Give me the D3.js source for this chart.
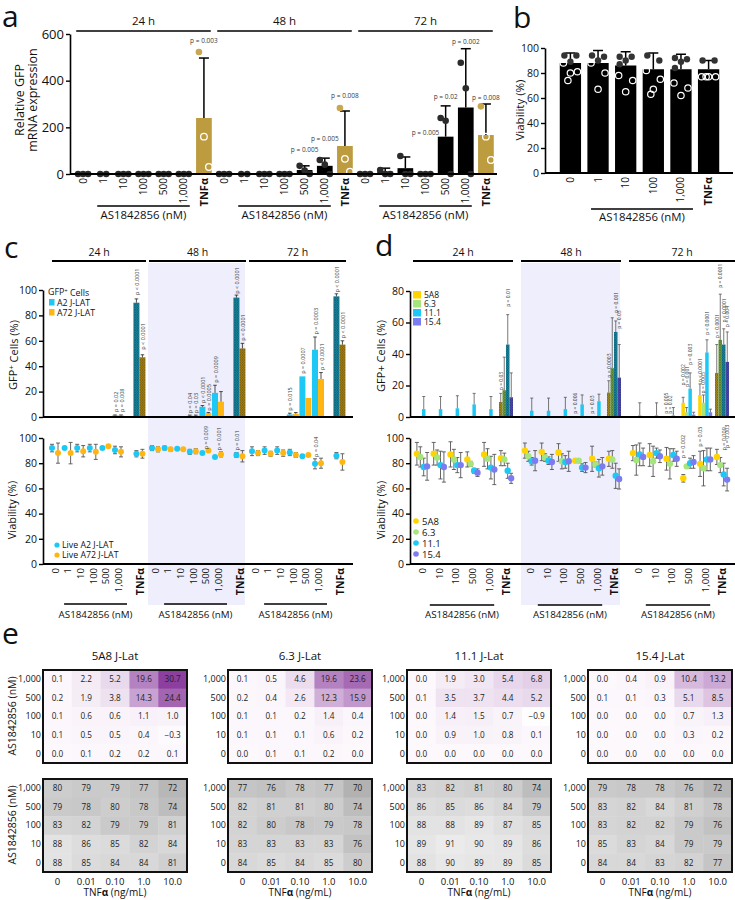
<!DOCTYPE html>
<html><head><meta charset="utf-8">
<script src="https://cdn.jsdelivr.net/npm/d3@7/dist/d3.min.js"></script>
<style>html,body{margin:0;padding:0;background:#fff;}</style>
</head><body>
<script>
// ======================= DATA =======================
const groups = ["24 h", "48 h", "72 h"];

// ---- Panel a: relative GFP mRNA expression ----
const aDoses = ["0", "1", "10", "100", "500", "1,000", "TNFα"];
const aYTicks = [0, 200, 400, 600];
const aMean = {
  "24 h": [0, 0, 0, 0, 0, 0, 240],
  "48 h": [0, 0, 0, 0, 17, 35, 120],
  "72 h": [0, 10, 25, 0, 160, 285, 167]
};
const aUpper = {
  "24 h": [0, 0, 0, 0, 0, 0, 497],
  "48 h": [0, 0, 0, 0, 35, 68, 270],
  "72 h": [0, 25, 73, 0, 292, 537, 300]
};
const aReps = {
  "24 h": [[0,0,0],[0,0],[0,0,0],[0,0,0],[0,0,0],[0,0,0],[523,160,30]],
  "48 h": [[0,0,0],[0,0],[0,0,0],[0,0,0],[35,15,0],[60,40,0],[283,65,10]],
  "72 h": [[0,0,0],[17,0,0],[77,0,0],[0,0,0],[240,228,0],[477,367,0],[290,160,60]]
};
const aPvals = [
  {g:"24 h", d:"TNFα", v:560, t:"p = 0.003"},
  {g:"48 h", d:"500", v:94, t:"p = 0.005"},
  {g:"48 h", d:"1,000", v:141, t:"p = 0.005"},
  {g:"48 h", d:"TNFα", v:326, t:"p = 0.008"},
  {g:"72 h", d:"100", v:167, t:"p = 0.005"},
  {g:"72 h", d:"500", v:321, t:"p = 0.02"},
  {g:"72 h", d:"1,000", v:557, t:"p = 0.002"},
  {g:"72 h", d:"TNFα", v:316, t:"p = 0.008"}
];

// ---- Panel b: viability ----
const bDoses = ["0", "1", "10", "100", "1,000", "TNFα"];
const bYTicks = [0, 20, 40, 60, 80, 100];
const bMean = [88, 88, 86, 83, 83, 83];
const bUpper = [96, 98, 97, 96, 95, 90];
const bReps = [
  [94, 94, 89, 88, 81, 80, 74],
  [94, 93, 90, 88, 80, 67],
  [93, 93, 90, 87, 78, 74, 65],
  [94, 90, 82, 75, 67, 63],
  [92, 91, 89, 84, 72, 68, 62],
  [90, 90, 77, 77, 77, 77]
];

// ---- Panel c: A2 / A72 J-LAT ----
const cDoses = ["0", "1", "10", "100", "500", "1,000", "TNFα"];
const cYTicks = [0, 20, 40, 60, 80, 100];
const cSeries = ["A2 J-LAT", "A72 J-LAT"];
const cLiveSeries = ["Live A2 J-LAT", "Live A72 J-LAT"];
const cGfpA2 = {"24 h":[0.6,0.6,0.6,0.6,0.6,1.2,90], "48 h":[0.6,0.6,0.6,1,8,19,94], "72 h":[0.6,0.6,0.6,2,32,53,95]};
const cGfpA2Up = {"24 h":[0,0,0,0,0,1.6,93], "48 h":[0,0,0,1.5,9,25,96], "72 h":[0,0,0,3,32,63,97]};
const cGfpA72 = {"24 h":[0.6,0.6,0.6,0.6,0.6,1.2,47], "48 h":[0.6,0.6,0.6,1,3,12,54], "72 h":[0.6,0.6,0.6,2.5,15,30,57]};
const cGfpA72Up = {"24 h":[0,0,0,0,0,1.6,49], "48 h":[0,0,0,1.5,3.5,20,58], "72 h":[0,0,0,3.5,15,35,60]};
const cViaA2 = {"24 h":[92,92,92,92,92,90.5,87.5], "48 h":[92,92,91.5,89,88,85,86.5], "72 h":[89.5,90,90,88.5,85.5,79.5,86]};
const cViaA2Sd = {"24 h":[3,0,3,3,0,3,2.5], "48 h":[2,1.5,1,2,0,1,2], "72 h":[3.5,3,3,2.5,0,4,2.5]};
const cViaA72 = {"24 h":[88,88,89.5,89,93.5,89,87.5], "48 h":[91,91,91,89.5,90,87,85.5], "72 h":[88,87.5,88,86.5,86.5,80,81]};
const cViaA72Sd = {"24 h":[8,8.5,4.5,6,0,4,3.5], "48 h":[2,1.5,1,2,0,2,4.5], "72 h":[2,2,2.5,2,0,4,6.5]};
const cTopP = [
  {g:"24 h", d:"1,000", s:0, v:4, t:"p = 0.02"},
  {g:"24 h", d:"1,000", s:1, v:4, t:"p = 0.008"},
  {g:"24 h", d:"TNFα", s:0, v:96, t:"p < 0.0001"},
  {g:"24 h", d:"TNFα", s:1, v:53, t:"p < 0.0001"},
  {g:"48 h", d:"100", s:0, v:3, t:"p = 0.04"},
  {g:"48 h", d:"100", s:1, v:3, t:"p = 0.03"},
  {g:"48 h", d:"500", s:0, v:11, t:"p < 0.0001"},
  {g:"48 h", d:"500", s:1, v:5, t:"p = 0.0005"},
  {g:"48 h", d:"1,000", s:0, v:27, t:"p = 0.0009"},
  {g:"48 h", d:"TNFα", s:0, v:97, t:"p < 0.0001"},
  {g:"48 h", d:"TNFα", s:1, v:60, t:"p < 0.0001"},
  {g:"72 h", d:"100", s:0, v:5, t:"p = 0.015"},
  {g:"72 h", d:"500", s:0, v:34, t:"p = 0.0007"},
  {g:"72 h", d:"1,000", s:0, v:65, t:"p = 0.0003"},
  {g:"72 h", d:"1,000", s:1, v:37, t:"p < 0.0001"},
  {g:"72 h", d:"TNFα", s:0, v:98, t:"p < 0.0001"},
  {g:"72 h", d:"TNFα", s:1, v:62, t:"p < 0.0001"}
];
const cBotP = [
  {g:"48 h", d:"500", s:0.5, v:91, t:"p = 0.009"},
  {g:"48 h", d:"1,000", s:0.5, v:90, t:"p = 0.001"},
  {g:"48 h", d:"TNFα", s:0, v:90, t:"p = 0.01"},
  {g:"72 h", d:"1,000", s:0, v:85, t:"p = 0.04"}
];

// ---- Panel d: four J-Lat clones ----
const dDoses = ["0", "10", "100", "500", "1,000", "TNFα"];
const dSeries = ["5A8", "6.3", "11.1", "15.4"];
const dYTicksTop = [0, 20, 40, 60, 80];
const dYTicksBot = [0, 20, 40, 60, 80, 100];
const dGfpMean = {
  "24 h": [[0.3,0.3,5,0.3],[0.3,0.3,5,0.3],[0.3,0.3,5.5,0.3],[0.3,0.3,8,0.3],[0.3,0.3,5,0.3],[9.5,17,46,12.5]],
  "48 h": [[0.3,0.3,4,0.3],[0.3,0.3,4,0.3],[0.3,0.3,5,0.3],[0.5,0.5,8,0.5],[0.5,0.5,10,0.5],[15.5,31,54,25]],
  "72 h": [[0.3,0.3,1,0.3],[0.3,0.3,1,0.3],[0.5,0.5,1,0.5],[9,3,18,1.5],[14,9,41,3],[28,49,46,35]]
};
const dGfpUpper = {
  "24 h": [[0,0,13,0],[0,0,13,0],[0,0,13.5,0],[0,0,15,0],[0,0,13,0],[15,38,65,28]],
  "48 h": [[0,0,12,0],[0,0,12,0],[0,0,12.5,0],[1,1,14,1],[1,1,14.5,1],[23,63,61,46]],
  "72 h": [[0,0,9,0],[0,0,9,0],[1,1,6,1],[12.5,6,28,3],[21,14,49,5],[46,78,56,54]]
};
const dViaMean = {
  "24 h": [[87.5,85,77,77.5],[87.5,84.5,78.5,77],[87,83,78.5,78.5],[83,79.5,74,72.5],[87,83.5,76.5,75],[84,83,74,68]],
  "48 h": [[90,85.5,81.5,82],[89,84.5,82,81],[88.5,81.5,81,81.5],[82,82,76.5,76.5],[83.5,79,76,77.5],[83.5,83,70,67.5]],
  "72 h": [[88,82.5,87,85],[86.5,81.5,88,85.5],[83.5,79.5,86.5,83.5],[68,77.5,80,81],[79.5,76,83,83],[85,78.5,71,67]]
};
const dViaSd = {
  "24 h": [[9,8,7,11],[9,6,11,12],[10,8,6,10],[6,2,2,3],[9.5,8,9,12],[6,5,6,4]],
  "48 h": [[6,4,3,8],[7,3,3,6],[7,6,5,8],[0.5,0.5,3,4],[10,2,7,7],[6,7,10,8]],
  "72 h": [[6,12,9,7],[9,12,4,5],[9,12,5,6],[3,0.5,4,5],[10,14,9,9],[6,6,9,9]]
};
const dTopP = [
  {g:"24 h", d:"TNFα", s:0, v:17, t:"p = 0.03"},
  {g:"24 h", d:"TNFα", s:2, v:70, t:"p = 0.01"},
  {g:"48 h", d:"500", s:0, v:2, t:"p = 0.006"},
  {g:"48 h", d:"1,000", s:0, v:2, t:"p = 0.03"},
  {g:"48 h", d:"TNFα", s:0, v:25, t:"p = 0.0003"},
  {g:"48 h", d:"TNFα", s:2, v:66, t:"p = 0.001"},
  {g:"48 h", d:"TNFα", s:3, v:56, t:"p = 0.03"},
  {g:"72 h", d:"100", s:0, v:2, t:"p = 0.005"},
  {g:"72 h", d:"100", s:1, v:2, t:"p = 0.02"},
  {g:"72 h", d:"500", s:0, v:20, t:"p = 0.002"},
  {g:"72 h", d:"500", s:1, v:19, t:"p = 0.001"},
  {g:"72 h", d:"500", s:2, v:33, t:"p = 0.003"},
  {g:"72 h", d:"1,000", s:0, v:22, t:"p < 0.0001"},
  {g:"72 h", d:"1,000", s:1, v:15, t:"p = 0.005"},
  {g:"72 h", d:"1,000", s:2, v:52, t:"p < 0.0001"},
  {g:"72 h", d:"TNFα", s:0, v:50, t:"p < 0.0001"},
  {g:"72 h", d:"TNFα", s:1, v:82, t:"p = 0.0001"},
  {g:"72 h", d:"TNFα", s:2, v:60, t:"p < 0.0001"},
  {g:"72 h", d:"TNFα", s:3, v:57, t:"p = 0.004"}
];
const dBotP = [
  {g:"72 h", d:"500", s:0, v:84, t:"p = 0.002"},
  {g:"72 h", d:"1,000", s:0, v:93, t:"p = 0.05"},
  {g:"72 h", d:"TNFα", s:2, v:90, t:"p = 0.009"},
  {g:"72 h", d:"TNFα", s:3, v:92, t:"p = 0.003"}
];

// ---- Panel e: heatmaps ----
const hmNames = ["5A8 J-Lat", "6.3 J-Lat", "11.1 J-Lat", "15.4 J-Lat"];
const hmRows = ["1,000", "500", "100", "10", "0"];
const hmCols = ["0", "0.01", "0.10", "1.0", "10.0"];
const hmGFP = [
  [[0.1,2.2,5.2,19.6,30.7],[0.2,1.9,3.8,14.3,24.4],[0.1,0.6,0.6,1.1,1.0],[0.1,0.5,0.5,0.4,-0.3],[0.0,0.1,0.2,0.2,0.1]],
  [[0.1,0.5,4.6,19.6,23.6],[0.2,0.4,2.6,12.3,15.9],[0.1,0.1,0.2,1.4,0.4],[0.1,0.1,0.1,0.6,0.2],[0.0,0.1,0.1,0.2,0.0]],
  [[0.0,1.9,3.0,5.4,6.8],[0.1,3.5,3.7,4.4,5.2],[0.0,1.4,1.5,0.7,-0.9],[0.0,0.9,1.0,0.8,0.1],[0.0,0.0,0.0,0.0,0.0]],
  [[0.0,0.4,0.9,10.4,13.2],[0.1,0.1,0.3,5.1,8.5],[0.0,0.0,0.0,0.7,1.3],[0.0,0.0,0.0,0.3,0.2],[0.0,0.0,0.0,0.0,0.0]]
];
const hmVia = [
  [[80,79,79,77,72],[79,78,80,78,74],[83,82,79,79,81],[88,86,85,82,84],[88,85,84,84,81]],
  [[77,76,78,77,70],[82,81,81,80,74],[82,80,78,79,78],[83,83,83,83,76],[84,85,84,85,80]],
  [[83,82,81,80,74],[86,85,86,84,79],[88,88,89,87,85],[89,91,90,89,86],[88,90,89,89,85]],
  [[79,78,78,76,72],[83,82,84,81,78],[83,82,82,79,76],[85,83,84,79,79],[84,84,83,82,77]]
];

// ======================= DRAWING =======================
const FONT = "'Open Sans','Noto Sans',sans-serif";
const SHADE = "#eeeefc";
const GOLD = "#bd9b3f";
const cColors = ["#1ec8f5", "#ffb612"];
const dColors = ["#ffd400", "#a5e57c", "#1ec8f5", "#7b7cf0"];

const svg = d3.select("body").append("svg").attr("width", 735).attr("height", 900)
  .attr("font-family", FONT);
const defs = svg.append("defs");
function makeHatch(id, base, line) {
  const p = defs.append("pattern").attr("id", id).attr("patternUnits", "userSpaceOnUse")
    .attr("width", 2.5).attr("height", 2.5);
  p.append("rect").attr("width", 2.5).attr("height", 2.5).attr("fill", base);
  p.append("path").attr("d", "M0,0L2.5,2.5M2.5,0L0,2.5").attr("stroke", line).attr("stroke-width", 0.5);
}
makeHatch("hc0", "#1a8aa3", "#0b4d5e");
makeHatch("hc1", "#ac8619", "#634a06");
makeHatch("hd0", "#b0951c", "#5e4e08");
makeHatch("hd1", "#74a648", "#3b6020");
makeHatch("hd2", "#1a8aa3", "#0b4d5e");
makeHatch("hd3", "#5050b8", "#28286a");

function text(x, y, s, size, o = {}) {
  const t = svg.append("text").attr("x", x).attr("y", y).attr("font-size", size)
    .attr("text-anchor", o.anchor || "middle").attr("fill", o.fill || "#111");
  if (o.weight) t.attr("font-weight", o.weight);
  if (o.rot) t.attr("transform", `rotate(-90,${x},${y})`);
  t.text(s);
  return t;
}
function pLabel(x, y, s, size) {
  svg.append("text").attr("transform", `translate(${x},${y}) rotate(-90)`)
    .attr("font-size", size).attr("fill", "#3a3a3a").attr("dominant-baseline", "central")
    .attr("text-anchor", "start").text(s);
}
function hLine(x1, x2, y, w) {
  svg.append("line").attr("x1", x1).attr("x2", x2).attr("y1", y).attr("y2", y)
    .attr("stroke", "#000").attr("stroke-width", w);
}
function vErr(x, y1, y2, cap, color, w) {
  svg.append("line").attr("x1", x).attr("x2", x).attr("y1", y1).attr("y2", y2).attr("stroke", color).attr("stroke-width", w);
  svg.append("line").attr("x1", x - cap).attr("x2", x + cap).attr("y1", y2).attr("y2", y2).attr("stroke", color).attr("stroke-width", w);
}
function yAxis(scale, x, ticks, size) {
  const g = svg.append("g").attr("transform", `translate(${x},0)`)
    .call(d3.axisLeft(scale).tickValues(ticks).tickSize(4).tickSizeOuter(0).tickPadding(2));
  g.attr("font-family", FONT);
  g.select(".domain").attr("stroke", "#000").attr("stroke-width", 1.6);
  g.selectAll(".tick line").attr("stroke", "#000").attr("stroke-width", 1.4);
  g.selectAll(".tick text").attr("font-size", size).attr("fill", "#111");
  return g;
}
function xLabels(scale, keys, y, size, tsize) {
  const fmt = k => k.includes("|") ? k.split("|")[1] : k;
  const g = svg.append("g").attr("transform", `translate(0,${y})`)
    .call(d3.axisBottom(scale).tickValues(keys).tickSize(0).tickFormat(fmt));
  g.attr("font-family", FONT);
  g.select(".domain").remove();
  g.selectAll(".tick text").attr("transform", "rotate(-90)").attr("text-anchor", "end")
    .attr("x", -4).attr("y", 0).attr("dy", "0.35em").attr("fill", "#111")
    .attr("font-size", k => fmt(k) === "TNFα" ? tsize : size)
    .attr("font-weight", k => fmt(k) === "TNFα" ? "bold" : null);
}

// ---------------- Panel a ----------------
text(2, 27, "a", 30, {anchor: "start"});
const aKeys = groups.flatMap(g => aDoses.map(d => g + "|" + d));
const ax = d3.scaleBand().domain(aKeys).range([73, 496]).paddingInner(0.22).paddingOuter(0.11);
const ay = d3.scaleLinear().domain([0, 600]).range([174, 34]);
const abw = ax.bandwidth();
groups.forEach(g => aDoses.forEach((d, i) => {
  const k = g + "|" + d, x0 = ax(k), xc = x0 + abw / 2;
  const m = aMean[g][i], up = aUpper[g][i], tnf = d === "TNFα";
  if (m > 0) svg.append("rect").attr("x", x0).attr("y", ay(m)).attr("width", abw)
    .attr("height", ay(0) - ay(m)).attr("fill", tnf ? GOLD : "#000");
  if (up > m) vErr(xc, ay(m), ay(up), 5, "#000", 1.5);
  const reps = aReps[g][i], offs = reps.length === 2 ? [-3, 3] : [-5, 0, 5];
  reps.forEach((v, j) => {
    const c = svg.append("circle").attr("cx", xc + offs[j]).attr("cy", ay(v)).attr("r", 3.3);
    if (tnf) {
      if (v > m) c.attr("fill", "#c9a650");
      else c.attr("fill", "none").attr("stroke", "#fff").attr("stroke-width", 1.3);
    } else c.attr("fill", "#2b2b2b");
  });
}));
yAxis(ay, 70, aYTicks, 13);
hLine(70, 497, 174, 2);
text(24, 100, "Relative GFP", 12.5, {rot: true});
text(37, 100, "mRNA expression", 12.5, {rot: true});
aPvals.forEach(p => text(ax(p.g + "|" + p.d) + abw / 2, ay(p.v), p.t, 6.5, {fill: "#3a3a3a"}));
groups.forEach(g => {
  const x1 = ax(g + "|0") + 1, x2 = ax(g + "|TNFα") + abw - 1;
  hLine(x1, x2, 31, 1.5);
  text((x1 + x2) / 2, 25, g, 11.5);
  const b1 = ax(g + "|1") + abw / 2 - 6, b2 = ax(g + "|1,000") + abw / 2 + 6;
  hLine(b1, b2, 206, 1.5);
  text((b1 + b2) / 2, 219, "AS1842856 (nM)", 11.4);
});
xLabels(ax, aKeys, 174, 10, 11);

// ---------------- Panel b ----------------
text(513, 28, "b", 30, {anchor: "start"});
const bKeys = bDoses.map(d => "b|" + d);
const bx = d3.scaleBand().domain(bKeys).range([557, 722]).paddingInner(0.23).paddingOuter(0.1);
const by = d3.scaleLinear().domain([0, 100]).range([173, 48]);
const bbw = bx.bandwidth();
const bOff = [-6, 6, 0, -6, 6, 0, -6, 6];
bDoses.forEach((d, i) => {
  const x0 = bx("b|" + d), xc = x0 + bbw / 2, m = bMean[i];
  svg.append("rect").attr("x", x0).attr("y", by(m)).attr("width", bbw).attr("height", by(0) - by(m)).attr("fill", "#000");
  vErr(xc, by(m), by(bUpper[i]), 5, "#000", 1.5);
  let fi = 0, oi = 0;
  bReps[i].forEach(v => {
    const c = svg.append("circle").attr("cy", by(v)).attr("r", 3.2);
    if (v > m) c.attr("cx", xc + bOff[fi++]).attr("fill", "#333");
    else c.attr("cx", xc + [-7, 7, 0, -2.5, 2.5, 0][oi++]).attr("fill", "none").attr("stroke", "#fff").attr("stroke-width", 1.2);
  });
});
yAxis(by, 545, bYTicks, 10.5);
hLine(545, 733, 173, 2);
text(524, 110, "Viability (%)", 11.5, {rot: true});
xLabels(bx, bKeys, 173, 10, 11);
{
  const b1 = bx("b|1") + bbw / 2 - 7, b2 = bx("b|1,000") + bbw / 2 + 12;
  hLine(b1, b2, 209, 1.5);
  text((b1 + b2) / 2, 221, "AS1842856 (nM)", 11.4);
}

// ---------------- Panel c ----------------
text(4, 258, "c", 30, {anchor: "start"});
const cgx = d3.scaleBand().domain(groups).range([48, 348]);
const cSlot = d3.scaleLinear().domain([0, 6]).range([7, 82.6]);
const cKeys = groups.flatMap(g => cDoses.map(d => g + "|" + d));
const cx = d3.scaleOrdinal().domain(cKeys).range(cKeys.map(k => {
  const [g, d] = k.split("|");
  return cgx(g) + cSlot(d === "TNFα" ? 6.7 : cDoses.indexOf(d));
}));
const cyT = d3.scaleLinear().domain([0, 100]).range([417, 290]);
const cyB = d3.scaleLinear().domain([0, 100]).range([564, 438]);
svg.append("rect").attr("x", cgx("48 h")).attr("y", 263).attr("width", 97).attr("height", 342).attr("fill", SHADE);
groups.forEach(g => {
  const x1 = cgx(g) + (g === "24 h" ? 4 : 1), x2 = cgx(g) + 98;
  hLine(x1, x2, 261, 1.8);
  text((x1 + x2) / 2, 256, g, 10.5);
});
const cMeans = [cGfpA2, cGfpA72], cUps = [cGfpA2Up, cGfpA72Up];
groups.forEach(g => cDoses.forEach((d, i) => {
  const xc = cx(g + "|" + d);
  [0, 1].forEach(s => {
    const v = cMeans[s][g][i], up = cUps[s][g][i], x0 = xc + (s === 0 ? -6 : 0);
    svg.append("rect").attr("x", x0).attr("y", cyT(v)).attr("width", 6).attr("height", cyT(0) - cyT(v))
      .attr("fill", d === "TNFα" ? `url(#hc${s})` : cColors[s]);
    if (up > v) vErr(x0 + 3, cyT(v), cyT(up), 1.8, "#222", 0.8);
  });
}));
cTopP.forEach(p => pLabel(cx(p.g + "|" + p.d) + (p.s - 0.5) * 6 + 0.5, cyT(p.v), p.t, 5.5));
yAxis(cyT, 43, cYTicks, 10.5);
hLine(43, 353, 417, 1.8);
// legend top
text(48, 295, "", 8.8, {anchor: "start"}).call(t => {
  t.append("tspan").text("GFP");
  t.append("tspan").attr("dy", "-0.35em").attr("font-size", 6).text("+");
  t.append("tspan").attr("dy", "0.35em").text(" Cells");
});
cSeries.forEach((s, k) => {
  svg.append("rect").attr("x", 49).attr("y", 299 + k * 10).attr("width", 5.5).attr("height", 6.5).attr("fill", cColors[k]);
  text(57, 305.5 + k * 10, s, 8.8, {anchor: "start"});
});
text(17, 355, "", 11, {rot: true}).call(t => {
  t.append("tspan").text("GFP");
  t.append("tspan").attr("dy", "-0.4em").attr("font-size", 7.5).text("+");
  t.append("tspan").attr("dy", "0.4em").text(" Cells (%)");
});
// bottom (viability)
const cVia = [cViaA2, cViaA72], cViaSd = [cViaA2Sd, cViaA72Sd];
groups.forEach(g => cDoses.forEach((d, i) => {
  const xc = cx(g + "|" + d);
  [0, 1].forEach(s => {
    const v = cVia[s][g][i], sd = cViaSd[s][g][i], x = xc + (s === 0 ? -3 : 3);
    if (sd > 0) {
      svg.append("line").attr("x1", x).attr("x2", x).attr("y1", cyB(v - sd)).attr("y2", cyB(v + sd)).attr("stroke", "#555").attr("stroke-width", 0.9);
      [v - sd, v + sd].forEach(e => svg.append("line").attr("x1", x - 2).attr("x2", x + 2).attr("y1", cyB(e)).attr("y2", cyB(e)).attr("stroke", "#555").attr("stroke-width", 0.9));
    }
    svg.append("circle").attr("cx", x).attr("cy", cyB(v)).attr("r", 3).attr("fill", cColors[s]);
  });
}));
cBotP.forEach(p => pLabel(cx(p.g + "|" + p.d) + (p.s - 0.5) * 6 + 0.5, cyB(p.v), p.t, 5.5));
yAxis(cyB, 43, cYTicks, 10.5);
hLine(43, 353, 564, 1.8);
text(16, 510, "Viability (%)", 11, {rot: true});
cLiveSeries.forEach((s, k) => {
  svg.append("circle").attr("cx", 57).attr("cy", 545 + k * 10).attr("r", 2.6).attr("fill", cColors[k]);
  text(62, 548.2 + k * 10, s, 8.8, {anchor: "start"});
});
xLabels(cx, cKeys, 564, 9.5, 10.5);
groups.forEach(g => {
  const b1 = cx(g + "|1") - 3.5, b2 = cx(g + "|1,000") + 9;
  hLine(b1, b2, 604, 1.5);
  text((b1 + b2) / 2, 618, "AS1842856 (nM)", 9.8);
});

// ---------------- Panel d ----------------
text(375, 256, "d", 30, {anchor: "start"});
const dgx = d3.scaleBand().domain(groups).range([413, 737]);
const dSlot = d3.scalePoint().domain(dDoses).range([9, 93]);
const dKeys = groups.flatMap(g => dDoses.map(d => g + "|" + d));
const dx = d3.scaleOrdinal().domain(dKeys).range(dKeys.map(k => {
  const [g, d] = k.split("|");
  return dgx(g) + dSlot(d);
}));
const dyT = d3.scaleLinear().domain([0, 80]).range([417, 291]);
const dyB = d3.scaleLinear().domain([0, 100]).range([564, 438]);
svg.append("rect").attr("x", dgx("48 h")).attr("y", 263).attr("width", 99).attr("height", 342).attr("fill", SHADE);
groups.forEach(g => {
  const x1 = dgx(g), x2 = dgx(g) + (g === "72 h" ? 106 : 100);
  hLine(x1, x2, 261, 1.8);
  text((x1 + x2) / 2, 256, g, 10.5);
});
const dOffBar = k => (k - 1.5) * 3.5;
groups.forEach(g => dDoses.forEach((d, i) => {
  const xc = dx(g + "|" + d);
  dSeries.forEach((s, k) => {
    const v = dGfpMean[g][i][k], up = dGfpUpper[g][i][k], x0 = xc + dOffBar(k) - 1.75;
    svg.append("rect").attr("x", x0).attr("y", dyT(v)).attr("width", 3.5).attr("height", dyT(0) - dyT(v))
      .attr("fill", d === "TNFα" ? `url(#hd${k})` : dColors[k]);
    if (up > v + 0.5) vErr(x0 + 1.75, dyT(v), dyT(up), 1.5, "#555", 0.8);
  });
}));
dTopP.forEach(p => pLabel(dx(p.g + "|" + p.d) + dOffBar(p.s), dyT(p.v), p.t, 5));
yAxis(dyT, 410, dYTicksTop, 10.5);
hLine(410, 735, 417, 1.8);
text(385, 356, "GFP+ Cells (%)", 11, {rot: true});
dSeries.forEach((s, k) => {
  svg.append("rect").attr("x", 413).attr("y", 291 + k * 9).attr("width", 8).attr("height", 7.5).attr("fill", dColors[k]);
  text(424, 298 + k * 9, s, 8.5, {anchor: "start"});
});
const dOffDot = k => (k - 1.5) * 3.4;
groups.forEach(g => dDoses.forEach((d, i) => {
  const xc = dx(g + "|" + d);
  dSeries.forEach((s, k) => {
    const v = dViaMean[g][i][k], sd = dViaSd[g][i][k], x = xc + dOffDot(k);
    svg.append("line").attr("x1", x).attr("x2", x).attr("y1", dyB(v - sd)).attr("y2", dyB(v + sd)).attr("stroke", "#555").attr("stroke-width", 0.9);
    [v - sd, v + sd].forEach(e => svg.append("line").attr("x1", x - 2).attr("x2", x + 2).attr("y1", dyB(e)).attr("y2", dyB(e)).attr("stroke", "#555").attr("stroke-width", 0.9));
  });
}));
groups.forEach(g => dDoses.forEach((d, i) => {
  const xc = dx(g + "|" + d);
  dSeries.forEach((s, k) => {
    svg.append("circle").attr("cx", xc + dOffDot(k)).attr("cy", dyB(dViaMean[g][i][k])).attr("r", 3.2).attr("fill", dColors[k]);
  });
}));
dBotP.forEach(p => pLabel(dx(p.g + "|" + p.d) + dOffDot(p.s), dyB(p.v), p.t, 5.5));
yAxis(dyB, 410, dYTicksBot, 10.5);
hLine(410, 735, 564, 1.8);
text(385, 510, "Viability (%)", 11, {rot: true});
dSeries.forEach((s, k) => {
  svg.append("circle").attr("cx", 416).attr("cy", 521 + k * 11).attr("r", 2.8).attr("fill", dColors[k]);
  text(422, 524.5 + k * 11, s, 9.5, {anchor: "start"});
});
xLabels(dx, dKeys, 564, 9.5, 10.5);
groups.forEach(g => {
  const b1 = dx(g + "|10") - 9, b2 = dx(g + "|1,000") + 5;
  hLine(b1, b2, 605, 1.5);
  text((b1 + b2) / 2, 618, "AS1842856 (nM)", 9.8);
});

// ---------------- Panel e ----------------
text(2, 644, "e", 30, {anchor: "start"});
const hmX0 = [43, 228, 407, 588], hmW = 144;
const purple = d3.scaleLinear().domain([-1, 0, 31]).range(["#ffffff", "#fcf8fc", "#8b3d9e"]).clamp(true);
const gray = d3.scaleLinear().domain([70, 91]).range(["#b2b2b2", "#ebebeb"]).clamp(true);
hmNames.forEach((name, k) => {
  const hx = d3.scaleBand().domain(hmCols).range([hmX0[k], hmX0[k] + hmW]);
  const yT = d3.scaleBand().domain(hmRows).range([670, 763]);
  const yB = d3.scaleBand().domain(hmRows).range([779, 872]);
  text(hmX0[k] + hmW / 2, 660, name, 11.5);
  [[yT, hmGFP[k], purple, v => v.toFixed(1).replace("-", "−")],
   [yB, hmVia[k], gray, v => String(v)]].forEach(([ys, M, col, fmt]) => {
    const g = svg.append("g");
    hmRows.forEach((r, i) => hmCols.forEach((c, j) => {
      g.append("rect").attr("x", hx(c)).attr("y", ys(r)).attr("width", hx.bandwidth() + 0.4)
        .attr("height", ys.bandwidth() + 0.4).attr("fill", col(M[i][j]));
      g.append("text").attr("x", hx(c) + hx.bandwidth() / 2).attr("y", ys(r) + ys.bandwidth() / 2)
        .attr("dy", "0.35em").attr("text-anchor", "middle").attr("font-size", 8.2).attr("fill", "#222")
        .text(fmt(M[i][j]));
    }));
    g.append("rect").attr("x", hmX0[k]).attr("y", ys.range()[0]).attr("width", hmW)
      .attr("height", ys.range()[1] - ys.range()[0]).attr("fill", "none").attr("stroke", "#111").attr("stroke-width", 2);
    const la = svg.append("g").attr("transform", `translate(${hmX0[k] - 1},0)`)
      .call(d3.axisLeft(ys).tickSize(0).tickPadding(1));
    la.attr("font-family", FONT); la.select(".domain").remove();
    la.selectAll("text").attr("font-size", 9).attr("fill", "#111");
  });
  const ba = svg.append("g").attr("transform", `translate(0,872)`)
    .call(d3.axisBottom(hx).tickSize(0).tickPadding(6));
  ba.attr("font-family", FONT); ba.select(".domain").remove();
  ba.selectAll("text").attr("font-size", 9.5).attr("fill", "#111");
  text(hmX0[k] + hmW / 2, 896, "", 10).call(t => {
    t.append("tspan").text("TNF");
    t.append("tspan").attr("font-weight", "bold").text("α");
    t.append("tspan").text(" (ng/mL)");
  });
});
text(16, 716, "AS1842856 (nM)", 10.5, {rot: true});
text(16, 825, "AS1842856 (nM)", 10.5, {rot: true});
</script>
</body></html>
